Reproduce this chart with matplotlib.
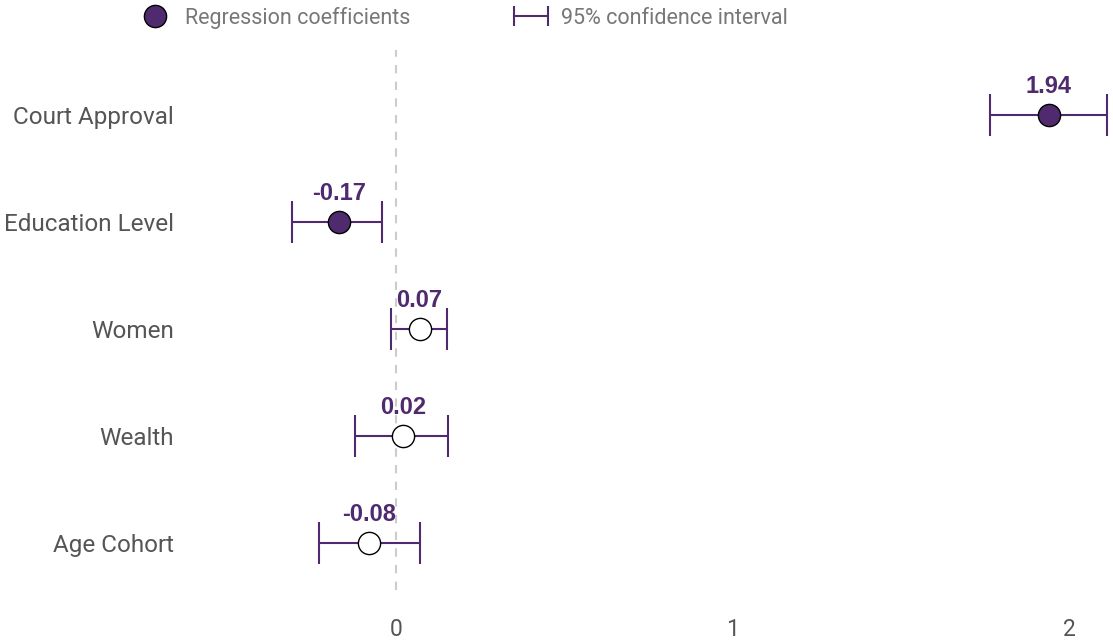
import numpy as np
import matplotlib.pyplot as plt
from matplotlib.lines import Line2D
from matplotlib.legend_handler import HandlerLine2D

# coefficient estimates with 95% confidence intervals
variables = ["Court Approval", "Education Level", "Women", "Wealth", "Age Cohort"]
coef = np.array([1.94, -0.17, 0.07, 0.02, -0.08])
ci_low = np.array([1.765, -0.31, -0.015, -0.122, -0.229])
ci_high = np.array([2.113, -0.042, 0.152, 0.155, 0.071])
significant = [True, True, False, False, False]

purple = "#4f2a6f"
grey = "#555555"

plt.rcParams['font.family'] = ['Roboto', 'DejaVu Sans']

fig = plt.figure(figsize=(11.13, 6.4), dpi=100)
ax = fig.add_axes([185 / 1113, 50 / 640, 925 / 1113, 540 / 640])

ypos = np.arange(len(variables))[::-1]

ax.axvline(0, color="#cccccc", lw=1.5, ls=(0, (4, 4)), zorder=0)

err = np.vstack([coef - ci_low, ci_high - coef])
ax.errorbar(coef, ypos, xerr=err, fmt="none", ecolor=purple, elinewidth=1.5,
            capsize=15, capthick=1.5, zorder=2)

for x, y, sig in zip(coef, ypos, significant):
    ax.plot(x, y, "o", ms=16, mfc=purple if sig else "white", mec="black",
            mew=1, zorder=3)
    ax.annotate(f"{x:.2f}", (x, y), xytext=(0, 12), textcoords="offset points",
                ha="center", va="bottom", fontsize=17, fontweight="bold",
                color=purple, family=["Liberation Sans", "DejaVu Sans"])

ax.set_yticks(ypos)
ax.set_yticklabels(variables, fontsize=17.5)
ax.set_xticks([0, 1, 2])
ax.set_xlim((185 - 396) / 336.5, (1110 - 396) / 336.5)
ax.set_ylim(-(590 - 543) / 107, 4 + (115 - 50) / 107)
ax.tick_params(axis="both", length=0, labelcolor=grey)
ax.tick_params(axis="x", pad=20, labelsize=16.5)
ax.tick_params(axis="y", pad=8)
for s in ax.spines.values():
    s.set_visible(False)

# legend
h1 = Line2D([], [], marker="o", ls="none", ms=16, mfc=purple, mec="black", mew=1)
h2 = Line2D([], [], color=purple, lw=1.5, marker="|", ms=14, mew=1.5)
leg = fig.legend([h1, h2], ["Regression coefficients", "95% confidence interval"],
                 loc="upper left", bbox_to_anchor=(112 / 1113, 1.02), ncol=2,
                 frameon=False, fontsize=15.5, columnspacing=4.5, handletextpad=0.3,
                 handlelength=2.2,
                 handler_map={h2: HandlerLine2D(numpoints=2)})
for t in leg.get_texts():
    t.set_color("#777777")

fig.savefig("out.png", dpi=100)
